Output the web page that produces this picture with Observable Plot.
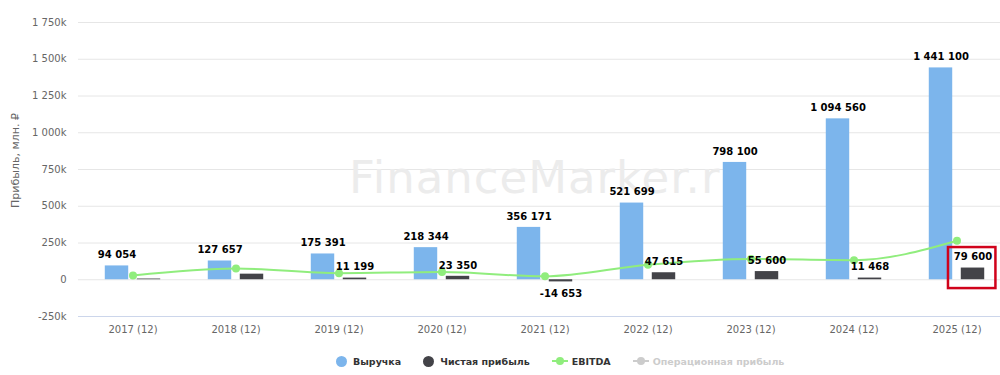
<!DOCTYPE html>
<html>
<head>
<meta charset="utf-8">
<script src="https://cdn.jsdelivr.net/npm/d3@7"></script>
<script src="https://cdn.jsdelivr.net/npm/@observablehq/plot@0.6"></script>
<style>
  html, body { margin: 0; padding: 0; background: #fff; }
  body { width: 1000px; height: 375px; overflow: hidden; position: relative; font-family: "DejaVu Sans", Verdana, sans-serif; }
  #chart { position: absolute; left: 0; top: 0; width: 1010px; }
  #chart svg { max-width: none !important; }
  #chart svg g[fill="#ececec"] text { letter-spacing: 1px; }
  #legend { position: absolute; left: 336px; top: 353px; height: 16px; display: flex; align-items: center; font-weight: bold; font-size: 9.5px; color: #333; white-space: nowrap; }
  .item { display: flex; align-items: center; margin-right: 22px; }
  .item.off { color: #cccccc; }
  .circ { width: 11px; height: 11px; border-radius: 50%; margin-right: 6px; }
  .lsym { position: relative; width: 16px; height: 11px; margin-right: 4px; }
  .lsym .ln { position: absolute; left: 0; right: 0; top: 4.5px; height: 2px; }
  .lsym .pt { position: absolute; left: 4px; top: 1.5px; width: 8px; height: 8px; border-radius: 50%; }
</style>
</head>
<body>
<div id="chart"></div>
<div id="legend"></div>
<script>
// ---- data ----
const categories = ["2017 (12)", "2018 (12)", "2019 (12)", "2020 (12)", "2021 (12)", "2022 (12)", "2023 (12)", "2024 (12)", "2025 (12)"];
const revenue = [94054, 127657, 175391, 218344, 356171, 521699, 798100, 1094560, 1441100];
const netProfit = [5000, 38000, 11199, 23350, -14653, 47615, 55600, 11468, 79600];
const ebitda = [29000, 76000, 45000, 52000, 23000, 102000, 141000, 133000, 265000];
const showNetLabel = [false, false, true, true, true, true, true, true, true];
const yTicks = [-250000, 0, 250000, 500000, 750000, 1000000, 1250000, 1500000, 1750000];
const highlight = [{category: "2025 (12)", low: -60000, high: 219000}];
const seriesNames = ["Выручка", "Чистая прибыль", "EBITDA", "Операционная прибыль"];
const seriesColors = ["#7cb5ec", "#434348", "#90ed7d", "#cccccc"];
const seriesSymbols = ["circle", "circle", "line", "line"];
const seriesVisible = [true, true, true, false];
const yTitle = "Прибыль, млн. ₽";
const watermark = ["FinanceMarker.ru"];

// ---- build ----
const rows = categories.map((c, i) => ({category: c, revenue: revenue[i], net: netProfit[i], ebitda: ebitda[i], showNet: showNetLabel[i]}));
const loc = d3.formatLocale({decimal: ".", thousands: " ", grouping: [3], currency: ["", ""], minus: "-"});
const num = loc.format(",");
const tickFmt = d => d === 0 ? "0" : num(d / 1000) + "k";

const bw = (1010 - 78) / categories.length;
const half = bw / 2;
const labelStyle = {fontWeight: "bold", fontSize: 10, fill: "#000"};

const chart = Plot.plot({
  width: 1010,
  height: 345,
  marginLeft: 78,
  marginRight: 0,
  marginTop: 22,
  marginBottom: 29,
  style: {fontFamily: "DejaVu Sans, Verdana, sans-serif", fontSize: "10px", background: "#fff", maxWidth: "none"},
  x: {type: "band", domain: categories, padding: 0, label: null},
  y: {domain: [-250000, 1750000], label: null},
  marks: [
    Plot.ruleY(yTicks.filter(d => d !== -250000), {stroke: "#e6e6e6", strokeWidth: 1}),
    Plot.ruleY([-250000], {stroke: "#ccd6eb", strokeWidth: 1}),
    Plot.text(watermark, {text: d => d, frameAnchor: "middle", dx: 5, dy: 9, fontSize: 45, fill: "#ececec", fontFamily: "DejaVu Sans, sans-serif"}),
    Plot.axisY(yTicks, {tickSize: 0, tickPadding: 12, tickFormat: tickFmt, fill: "#666", fontSize: 10, label: null}),
    Plot.axisX({tickSize: 0, tickPadding: 9, fill: "#666", fontSize: 10, label: null}),
    Plot.text([yTitle], {text: d => d, frameAnchor: "left", textAnchor: "middle", dx: -63, dy: -9, rotate: -90, fill: "#666", fontSize: 11}),
    Plot.barY(rows, {x: "category", y: "revenue", fill: seriesColors[0], insetLeft: half - 28, insetRight: half + 4}),
    Plot.barY(rows, {x: "category", y: "net", fill: seriesColors[1], insetLeft: half + 4, insetRight: half - 28}),
    Plot.line(rows, {x: "category", y: "ebitda", stroke: seriesColors[2], strokeWidth: 2, curve: "monotone-x"}),
    Plot.dot(rows, {x: "category", y: "ebitda", fill: seriesColors[2], r: 4}),
    Plot.text(rows, {x: "category", y: "revenue", text: d => num(d.revenue), dx: -16, dy: -11, ...labelStyle}),
    Plot.text(rows.filter(d => d.showNet && d.net >= 0), {x: "category", y: "net", text: d => num(d.net), dx: 16, dy: -11, ...labelStyle}),
    Plot.text(rows.filter(d => d.showNet && d.net < 0), {x: "category", y: "net", text: d => num(d.net), dx: 16, dy: 12, ...labelStyle}),
    Plot.barY(highlight, {x: "category", y1: "low", y2: "high", fill: "none", stroke: "#d0021b", strokeWidth: 2.5, insetLeft: half - 8.8, insetRight: half - 39.2})
  ]
});
document.getElementById("chart").appendChild(chart);

// ---- legend ----
const legend = document.getElementById("legend");
seriesNames.forEach((name, i) => {
  const item = document.createElement("div");
  item.className = "item" + (seriesVisible[i] ? "" : " off");
  const color = seriesVisible[i] ? seriesColors[i] : "#cccccc";
  let sym;
  if (seriesSymbols[i] === "circle") {
    sym = document.createElement("span");
    sym.className = "circ";
    sym.style.background = color;
  } else {
    sym = document.createElement("span");
    sym.className = "lsym";
    const ln = document.createElement("span"); ln.className = "ln"; ln.style.background = color;
    const pt = document.createElement("span"); pt.className = "pt"; pt.style.background = color;
    sym.appendChild(ln); sym.appendChild(pt);
  }
  const label = document.createElement("span");
  label.textContent = name;
  item.appendChild(sym);
  item.appendChild(label);
  legend.appendChild(item);
});
</script>
</body>
</html>
